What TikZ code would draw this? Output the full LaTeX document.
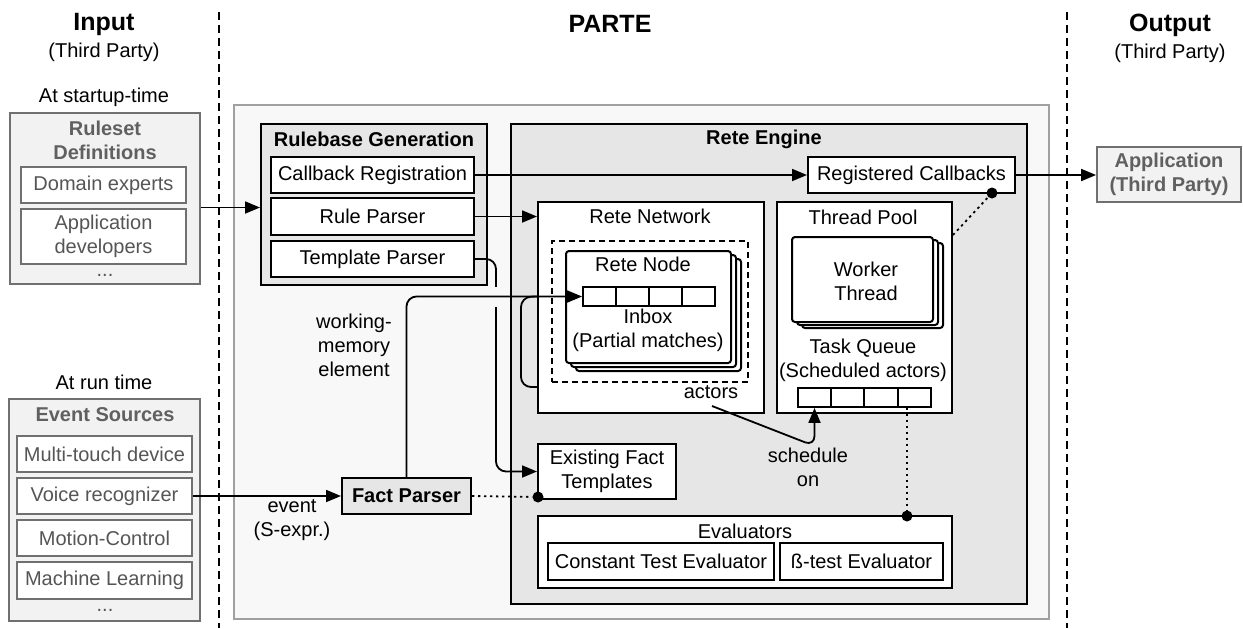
\documentclass[tikz,border=0pt]{standalone}
\usepackage{fontspec}
\setmainfont{Liberation Sans}
\usetikzlibrary{arrows.meta,fit,calc}
\definecolor{partebg}{HTML}{F8F8F8}
\definecolor{partebd}{HTML}{A0A0A0}
\definecolor{eng}{HTML}{E6E6E6}
\definecolor{extfill}{HTML}{F2F2F2}
\definecolor{extbd}{HTML}{707070}
\definecolor{exttext}{HTML}{555555}
\definecolor{exttitle}{HTML}{606060}
\newcommand\bigbf{\fontsize{12.5}{15}\selectfont\bfseries}
\begin{document}
\begin{tikzpicture}[x=0.5pt,y=-0.5pt,
  font=\fontsize{10}{12}\selectfont,
  sep/.style={line width=0.8pt, dash pattern=on 4pt off 2.5pt},
  txt/.style={inner sep=0, align=center},
  bftxt/.style={inner sep=0, align=center, font=\fontsize{10}{12}\selectfont\bfseries},
  lbl/.style={label={[txt]center:#1}},
  lblx/.style={label={[txt, text=exttext]center:#1}},
  lblb/.style={label={[bftxt]center:#1}},
  lblg/.style={label={[bftxt, text=exttitle]center:#1}},
  extbox/.style={draw=extbd, fill=extfill, line width=0.9pt, inner sep=0},
  extin/.style={draw=extbd, fill=white, line width=0.8pt, inner sep=0},
  exttl/.style={inner sep=0, align=center, text=exttitle, font=\fontsize{10}{12}\selectfont\bfseries},
  partebox/.style={draw=partebd, fill=partebg, line width=0.9pt, inner sep=0},
  engbox/.style={draw=black, fill=eng, line width=1pt, inner sep=0},
  wbox/.style={draw=black, fill=white, line width=1pt, inner sep=0},
  cardbox/.style={draw=black, fill=white, line width=1pt, inner sep=0, rounded corners=1.5pt},
  dashbox/.style={draw=black, line width=0.9pt, dash pattern=on 3pt off 2pt, inner sep=0},
  cellbox/.style={draw=black, fill=white, line width=0.9pt, inner sep=0},
  conn/.style={line width=0.9pt},
  arr/.style={line width=0.9pt, -{Triangle[length=7.5pt,width=6pt]}},
  dotl/.style={line width=0.9pt, dash pattern=on 1.2pt off 1.8pt},
  dot/.style={circle, fill=black, inner sep=0, minimum size=5.5pt}]
\useasboundingbox (0,0) rectangle (1243,628);

% separators
\coordinate (s1t) at (219,12); \coordinate (s1b) at (219,628);
\coordinate (s2t) at (1067,12); \coordinate (s2b) at (1067,628);
\draw[sep] (s1t) -- (s1b);
\draw[sep] (s2t) -- (s2b);

% column titles
\node[txt] (inT) at (104,24) {\bigbf Input};
\node[txt] (inS) at (104,52) {(Third Party)};
\node[txt] (paT) at (610,24) {\bigbf PARTE};
\node[txt] (ouT) at (1170,25) {\bigbf Output};
\node[txt] (ouS) at (1170,53) {(Third Party)};

% input: ruleset definitions
\node[txt] (startup) at (104,97) {At startup-time};
\node[extbox, fit={(10,113)(200,284)}] (rs) {};
\node[exttl] (rsT) at (105,140) {Ruleset\\Definitions};
\node[extin, fit={(21,167)(186,203)}, lblx={Domain experts}] (de) {};
\node[extin, fit={(21,209)(186,264)}, lblx={Application\\developers}] (ad) {};
\node[txt, text=exttext] (rsd) at (105,275) {...};

% input: event sources
\node[txt] (runtime) at (104,382) {At run time};
\node[extbox, fit={(9,399)(200,621)}] (es) {};
\node[exttl] (esT) at (105,415) {Event Sources};
\node[extin, fit={(17,436)(192,472)}, lblx={Multi-touch device}] (mt) {};
\node[extin, fit={(17,478)(192,514)}, lblx={Voice recognizer}] (vr) {};
\node[extin, fit={(17,520)(192,556)}, lblx={Motion-Control}] (mc) {};
\node[extin, fit={(17,562)(192,599)}, lblx={Machine Learning}] (ml) {};
\node[txt, text=exttext] (esd) at (105,610) {...};

% PARTE frame
\node[partebox, fit={(234,105)(1049,619)}] (parte) {};

% rulebase generation
\node[engbox, fit={(261,124)(487,285)}] (rg) {};
\node[bftxt] (rgT) at (374,139) {Rulebase Generation};
\node[wbox, fit={(271,157)(474,193)}, lbl={Callback Registration}] (cb) {};
\node[wbox, fit={(271,198)(474,235)}, lbl={Rule Parser}] (rp) {};
\node[wbox, fit={(271,241)(474,277)}, lbl={Template Parser}] (tpar) {};

% rete engine
\node[engbox, fit={(511,124)(1027,604)}] (re) {};
\node[bftxt] (reT) at (764,139) {Rete Engine};
\node[wbox, fit={(808,157)(1015,193)}, lbl={Registered Callbacks}] (rcb) {};

% rete network
\node[wbox, fit={(538,202)(764,413)}] (rn) {};
\node[txt] (rnT) at (650,216) {Rete Network};
\node[dashbox, fit={(552,241)(748,382)}] (dbx) {};
\node[cardbox, fit={(576,259)(741,371)}] (rnc3) {};
\node[cardbox, fit={(571,255)(736,367)}] (rnc2) {};
\node[cardbox, fit={(566,251)(731,363)}] (rnc1) {};
\node[txt] (rnodeT) at (643,264) {Rete Node};
\node[cellbox, fit={(583,287)(616,306)}] (c1) {};
\node[cellbox, fit={(616,287)(649,306)}] (c2) {};
\node[cellbox, fit={(649,287)(682,306)}] (c3) {};
\node[cellbox, fit={(682,287)(715,306)}] (c4) {};
\node[txt] (inboxT) at (648,330) {Inbox\\(Partial matches)};
\node[txt] (act) at (711,392) {actors};

% thread pool
\node[wbox, fit={(777,202)(952,413)}] (tp) {};
\node[txt] (tpT) at (863,217) {Thread Pool};
\node[cardbox, fit={(802,243)(943,328)}] (wc3) {};
\node[cardbox, fit={(797,240)(938,325)}] (wc2) {};
\node[cardbox, fit={(792,237)(933,322)}] (wc1) {};
\node[txt] (wtT) at (866,281) {Worker\\Thread};
\node[txt] (tqT) at (863,360) {Task Queue\\(Scheduled actors)};
\node[cellbox, fit={(798,388)(831,407)}] (q1) {};
\node[cellbox, fit={(831,388)(864,407)}] (q2) {};
\node[cellbox, fit={(864,388)(898,407)}] (q3) {};
\node[cellbox, fit={(898,388)(931,407)}] (q4) {};

% existing fact templates
\node[wbox, fit={(538,444)(676,499)}, lbl={Existing Fact\\Templates}] (eft) {};

% evaluators
\node[wbox, fit={(538,516)(952,588)}] (ev) {};
\node[txt] (evT) at (745,531) {Evaluators};
\node[wbox, fit={(548,543)(774,580)}, lbl={Constant Test Evaluator}] (cte) {};
\node[wbox, fit={(780,543)(943,580)}, lbl={ß-test Evaluator}] (bte) {};

% fact parser
\node[engbox, fit={(342,478)(471,514)}, lblb={Fact Parser}] (fp) {};

% output application
\node[extbox, fit={(1097,147)(1241,202)}, lblg={Application\\(Third Party)}] (app) {};

% labels
\node[txt] (evl) at (292,520) {event\\(S-expr.)};
\node[txt] (wml) at (354,345) {working-\\memory\\element};
\node[txt] (sch) at (808,467) {schedule\\on};

% dots
\node[dot] (d1) at (538,497) {};
\node[dot] (d2) at (992,193) {};
\node[dot] (d3) at (907,516) {};

% connectors
\coordinate (a1) at ($(rs.east)+(0,9)$);
\draw[arr] (a1) -- (a1 -| rg.west);
\draw[arr] (vr.east) -- (vr.east -| fp.west);
\draw[arr] (cb.east) -- (cb.east -| rcb.west);
\draw[arr] (rcb.east) -- (rcb.east -| app.west);
\draw[arr] (rp.east) -- (rp.east -| rn.west);

\coordinate (tj) at (496,0);
\draw[arr, rounded corners=5pt] (tpar.east) -| (tj |- eft.west) -- (eft.west);
\fill[partebg] (490,287) rectangle (502,307);

\coordinate (lp1) at (rn.west |- 0,387);
\draw[conn, rounded corners=5pt] (lp1) -| (521,297) -- (rn.west |- c1.west);
\draw[arr, rounded corners=5pt] (fp.north) |- (c1.west);

\coordinate (actS) at (712,406);
\draw[arr, rounded corners=5pt] (actS) -- (q1.south |- 0,446) -- (q1.south);

\draw[dotl] (fp.east) -- (d1);
\coordinate (tpE) at (tp.east |- 0,235);
\draw[dotl] (tpE) -- (d2);
\draw[dotl] (d3 |- q4.south) -- (d3);
\end{tikzpicture}
\end{document}
